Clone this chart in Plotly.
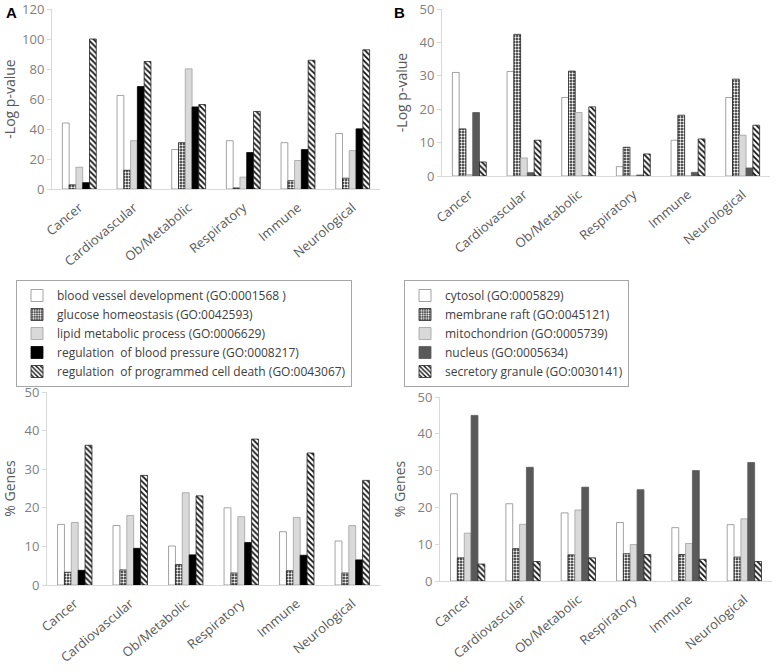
import plotly.graph_objects as go

categories = ["Cancer", "Cardiovascular", "Ob/Metabolic", "Respiratory", "Immune", "Neurological"]

# Panel A: -Log p-value, biological processes
a_names = ["blood vessel development (GO:0001568 )", "glucose homeostasis (GO:0042593)",
           "lipid metabolic process (GO:0006629)", "regulation  of blood pressure (GO:0008217)",
           "regulation  of programmed cell death (GO:0043067)"]
a_blood_vessel = [44.0, 62.4, 26.3, 32.2, 30.9, 37.0]
a_glucose = [2.8, 12.5, 30.9, 0.7, 5.5, 7.2]
a_lipid = [14.5, 32.2, 80.1, 7.9, 19.0, 25.6]
a_blood_pressure = [4.2, 68.3, 54.7, 24.3, 26.3, 40.1]
a_cell_death = [100.0, 85.0, 56.3, 51.7, 85.8, 92.8]

# Panel B: -Log p-value, cellular components
b_names = ["cytosol (GO:0005829)", "membrane raft (GO:0045121)", "mitochondrion (GO:0005739)",
           "nucleus (GO:0005634)", "secretory granule (GO:0030141)"]
b_cytosol = [31.0, 31.3, 23.5, 2.8, 10.7, 23.5]
b_raft = [14.1, 42.4, 31.4, 8.6, 18.2, 29.0]
b_mito = [0.4, 5.4, 19.0, 0.0, 0.0, 12.2]
b_nucleus = [19.0, 1.0, 0.0, 0.3, 1.1, 2.4]
b_granule = [4.2, 10.7, 20.7, 6.6, 11.1, 15.2]

# Panel C: % Genes, biological processes
c_blood_vessel = [15.7, 15.4, 10.1, 20.0, 13.8, 11.4]
c_glucose = [3.3, 3.9, 5.3, 3.1, 3.7, 3.1]
c_lipid = [16.2, 18.0, 23.9, 17.7, 17.5, 15.4]
c_blood_pressure = [3.8, 9.5, 7.8, 11.0, 7.7, 6.5]
c_cell_death = [36.2, 28.4, 23.1, 37.8, 34.2, 27.1]

# Panel D: % Genes, cellular components
d_cytosol = [23.7, 21.0, 18.5, 15.9, 14.5, 15.3]
d_raft = [6.3, 8.8, 7.1, 7.4, 7.2, 6.5]
d_mito = [13.0, 15.4, 19.3, 9.9, 10.2, 16.9]
d_nucleus = [45.0, 30.9, 25.5, 24.8, 30.0, 32.2]
d_granule = [4.6, 5.3, 6.3, 7.2, 5.9, 5.3]

y_ticks_a = [0, 20, 40, 60, 80, 100, 120]
y_ticks_b = [0, 10, 20, 30, 40, 50]

FONT = "Open Sans"
GREY_TXT = "#595959"


def styles(dark):
    return [
        dict(color="white", line=dict(color="#8c8c8c", width=0.8)),
        dict(color="white", line=dict(color="#222", width=0.8),
             pattern=dict(shape=".", fgcolor="white", bgcolor="#1a1a1a", size=3, solidity=0.5, fillmode="replace")),
        dict(color="#d9d9d9", line=dict(color="#a0a0a0", width=0.8)),
        dict(color=dark, line=dict(color=dark, width=0.8)),
        dict(color="white", line=dict(color="#222", width=0.8),
             pattern=dict(shape="\\", fgcolor="#111", bgcolor="white", size=4, solidity=0.45, fillmode="replace")),
    ]


fig = go.Figure()

panels = [
    ("x", "y", [a_blood_vessel, a_glucose, a_lipid, a_blood_pressure, a_cell_death], a_names, "#000000", "legend"),
    ("x2", "y2", [b_cytosol, b_raft, b_mito, b_nucleus, b_granule], b_names, "#595959", "legend2"),
    ("x3", "y3", [c_blood_vessel, c_glucose, c_lipid, c_blood_pressure, c_cell_death], a_names, "#000000", None),
    ("x4", "y4", [d_cytosol, d_raft, d_mito, d_nucleus, d_granule], b_names, "#595959", None),
]

for xa, ya, series, names, dark, leg in panels:
    st = styles(dark)
    for vals, name, s in zip(series, names, st):
        kw = dict(x=categories, y=vals, name=name, marker=s, xaxis=xa, yaxis=ya,
                  showlegend=leg is not None, hoverinfo="y")
        if leg is not None:
            kw["legend"] = leg
        fig.add_trace(go.Bar(**kw))

W, H = 777, 672


def xdom(a, b):
    return [a / W, b / W]


def ydom(top, bottom):
    return [1 - bottom / H, 1 - top / H]


axis_common = dict(showline=True, linecolor="#d9d9d9", linewidth=1, showgrid=False, zeroline=False,
                   automargin=False, ticklabeloverflow="allow",
                   tickfont=dict(family=FONT, size=13, color="#7f7f7f"))
xcommon = dict(axis_common, tickangle=-40, ticks="", ticklabelstandoff=5,
               tickfont=dict(family=FONT, size=13, color=GREY_TXT))
ycommon = dict(axis_common, ticks="outside", ticklen=4, tickcolor="#d9d9d9", tickmode="array",
               title_font=dict(family=FONT, size=14, color=GREY_TXT), title_standoff=8)

fig.update_layout(
    template="none",
    width=W, height=H, margin=dict(l=0, r=0, t=0, b=0, autoexpand=False),
    paper_bgcolor="white", plot_bgcolor="white",
    barmode="group", bargap=0.38, bargroupgap=0.0,
    font=dict(family=FONT, color=GREY_TXT),
    xaxis=dict(xcommon, domain=xdom(52, 380), anchor="y"),
    yaxis=dict(ycommon, domain=ydom(9, 189), range=[0, 120], tickvals=y_ticks_a,
               title_text="-Log p-value", anchor="x"),
    xaxis2=dict(xcommon, domain=xdom(442, 770), anchor="y2"),
    yaxis2=dict(ycommon, domain=ydom(9, 176), range=[0, 50], tickvals=y_ticks_b,
                title_text="-Log p-value", anchor="x2"),
    xaxis3=dict(xcommon, domain=xdom(47, 380), anchor="y3"),
    yaxis3=dict(ycommon, domain=ydom(392, 585), range=[0, 50], tickvals=y_ticks_b,
                title_text="% Genes", anchor="x3"),
    xaxis4=dict(xcommon, domain=xdom(440, 772), anchor="y4"),
    yaxis4=dict(ycommon, domain=ydom(397, 581), range=[0, 50], tickvals=y_ticks_b,
                title_text="% Genes", anchor="x4"),
    legend=dict(x=16 / W, y=1 - 280 / H, xanchor="left", yanchor="top",
                bordercolor="#a6a6a6", borderwidth=1, bgcolor="white",
                font=dict(family=FONT, size=12, color="#404040"), traceorder="normal",
                itemwidth=30, tracegroupgap=0),
    legend2=dict(x=404 / W, y=1 - 280 / H, xanchor="left", yanchor="top",
                 bordercolor="#a6a6a6", borderwidth=1, bgcolor="white",
                 font=dict(family=FONT, size=12, color="#404040"), traceorder="normal",
                 itemwidth=30, tracegroupgap=0),
    annotations=[
        dict(text="<b>A</b>", x=4 / W, y=1 - 2 / H, xref="paper", yref="paper", xanchor="left",
             yanchor="top", showarrow=False, font=dict(family="Liberation Sans", size=15, color="black")),
        dict(text="<b>B</b>", x=392 / W, y=1 - 2 / H, xref="paper", yref="paper", xanchor="left",
             yanchor="top", showarrow=False, font=dict(family="Liberation Sans", size=15, color="black")),
    ],
)

fig.write_html("out.html", config={"displayModeBar": False},
               post_script="document.body.style.margin='0';document.body.style.overflow='hidden';")
